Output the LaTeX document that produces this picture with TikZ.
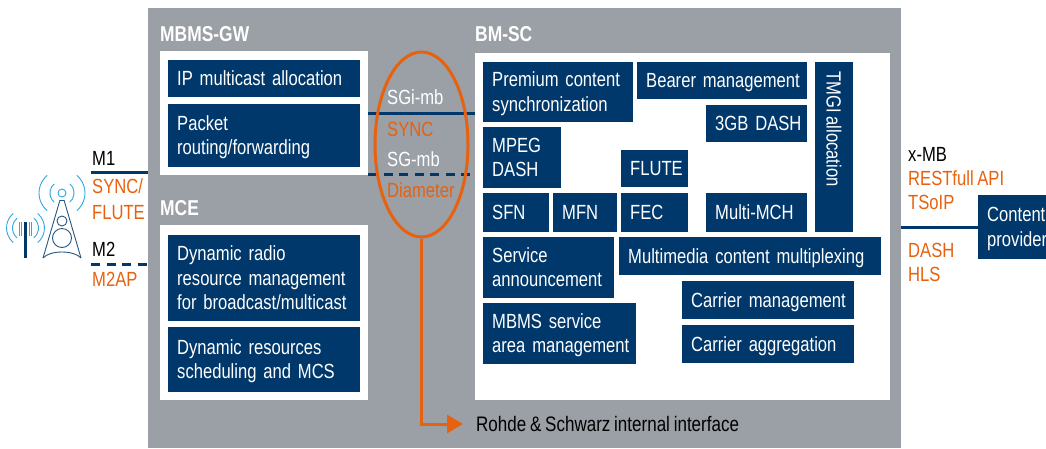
\documentclass[tikz,border=0pt]{standalone}
\usepackage{fontspec}
\setmainfont[FakeStretch=0.81,WordSpace=0.8]{Liberation Sans}
\usetikzlibrary{arrows.meta,shapes.geometric}
\definecolor{rsblue}{HTML}{00386B}
\definecolor{rsgray}{HTML}{9AA0A6}
\definecolor{rsorange}{HTML}{E8610E}
\definecolor{rswave}{HTML}{2FA8E0}
\newcommand{\boxstrut}{\rule[-5pt]{0pt}{24pt}}
\tikzset{
  bluebox/.style 2 args={fill=rsblue, text=white, anchor=north west, align=left,
    inner xsep=1pt, inner ysep=0pt, minimum width=#1pt, minimum height=#2pt,
    text width=#1pt-2pt, execute at begin node={\leftskip=8pt\rightskip=0pt plus 1fil\relax\boxstrut},
    execute at end node={\boxstrut}, font=\fontsize{20.5}{24.5}\selectfont},
  whitebox/.style 2 args={fill=white, anchor=north west, inner sep=0pt,
    minimum width=#1pt, minimum height=#2pt},
  lbl/.style={anchor=base west, inner sep=0pt, font=\fontsize{20.5}{24.5}\selectfont},
  head/.style={lbl, text=white, font=\fontsize{21.5}{24.5}\selectfont\bfseries},
  linkline/.style={rsblue, line width=3pt},
  linkdash/.style={linkline, dash pattern=on 9pt off 6.5pt},
  wave/.style={rswave, line width=0.9pt},
  tower/.style={rsblue!85!white, line width=0.9pt},
}
\begin{document}
\begin{tikzpicture}[x=1pt, y=-1pt]
      \useasboundingbox (0,0) rectangle (1046,448);
      %
      \node[whitebox={753}{440}, fill=rsgray] (core) at (148,8) {};   % gray frame
      \node[whitebox={208}{124}] (gw) at (160,51) {};
      \node[whitebox={208}{175}] (mce) at (160,225) {};
      \node[whitebox={415}{347}] (bmsc) at (475,53) {};
      \node[head] (gwhead) at (160,41) {MBMS-GW};
      \node[head] (mcehead) at (160,215) {MCE};
      \node[head] (bmhead) at (475,41) {BM-SC};
      %
      \node[bluebox={192}{37}] (ipalloc) at (168,60) {IP multicast allocation};   % left column
      \node[bluebox={192}{63}] (packet) at (168,104) {Packet\\routing/forwarding};
      \node[bluebox={192}{86}] (radio) at (168,235) {Dynamic radio\\resource management\\for broadcast/multicast};
      \node[bluebox={192}{65}] (sched) at (168,327) {Dynamic resources\\scheduling and MCS};
      %
      \node[bluebox={150}{60}] (premium) at (483,62) {Premium content\\synchronization};   % BM-SC
      \node[bluebox={170}{37}] (bearer) at (637,62) {Bearer management};
      \node[bluebox={38}{170}] (tmgi) at (815,62) {};
      \node[text=white, rotate=-90, inner sep=0pt, font=\fontsize{20.5}{24.5}\selectfont] (tmgitext) at (834,129) {TMGI allocation};
      \node[bluebox={101}{37}] (threegb) at (706,105) {3GB DASH};
      \node[bluebox={78}{61}] (mpeg) at (483,127) {MPEG\\DASH};
      \node[bluebox={67}{37}] (flute) at (621,150) {FLUTE};
      \node[bluebox={66}{39}] (sfn) at (483,193) {SFN};
      \node[bluebox={64}{39}] (mfn) at (553,193) {MFN};
      \node[bluebox={67}{39}] (fec) at (621,193) {FEC};
      \node[bluebox={101}{39}] (multi) at (706,193) {Multi-MCH};
      \node[bluebox={131}{61}] (service) at (483,237) {Service\\announcement};
      \node[bluebox={262}{38}] (mux) at (619,237) {Multimedia content multiplexing};
      \node[bluebox={172}{38}] (carrier) at (682,281) {Carrier management};
      \node[bluebox={153}{61}] (area) at (483,303) {MBMS service\\area management};
      \node[bluebox={172}{38}] (aggr) at (682,325) {Carrier aggregation};
      \node[bluebox={68}{64}] (content) at (978,195) {Content\\provider};
      %
      \coordinate (sgileft) at (368,113);   % links
      \coordinate (sgleft) at (368,174);
      \coordinate (m1left) at (91,172);
      \coordinate (m2left) at (91,264);
      \draw[linkline] (sgileft) -- (sgileft -| bmsc.west);
      \draw[linkdash] (sgleft) -- (sgleft -| bmsc.west);
      \draw[linkline] (m1left) -- (m1left -| core.west);
      \draw[linkdash] (m2left) -- (m2left -| core.west);
      \coordinate (xmbright) at (978,227);
      \draw[linkline] (xmbright -| core.east) -- (xmbright);
      %
      \node[draw=rsorange, line width=3pt, ellipse, inner sep=0pt, minimum width=93pt, minimum height=185pt] (oval) at (421.5,144.5) {};
      \coordinate (ifaceend) at (463,424);
      \draw[rsorange, line width=3pt, -{Triangle[length=16pt,width=18pt]}] (oval.south) |- (ifaceend);
      %
      \node[lbl, text=white] (sgilbl) at (387,104) {SGi-mb};   % labels at the oval
      \node[lbl, text=rsorange] (synclbl) at (387,136) {SYNC};
      \node[lbl, text=white] (sglbl) at (387,166) {SG-mb};
      \node[lbl, text=rsorange] (diamlbl) at (387,197) {Diameter};
      \node[lbl, font=\fontsize{21}{24.5}\selectfont] (ifacelbl) at (476,431) {Rohde \& Schwarz internal interface};
      %
      \node[lbl] (m1lbl) at (92,165) {M1};   % left side
      \node[lbl, text=rsorange] (m1syn) at (92,193) {SYNC/};
      \node[lbl, text=rsorange] (m1flu) at (92,219) {FLUTE};
      \node[lbl] (m2lbl) at (92,256) {M2};
      \node[lbl, text=rsorange] (m2ap) at (92,286) {M2AP};
      %
      \node[lbl] (xmblbl) at (908,161) {x-MB};   % right side
      \node[lbl, text=rsorange] (restlbl) at (908,185) {RESTfull API};
      \node[lbl, text=rsorange] (tsoip) at (908,209) {TSoIP};
      \node[lbl, text=rsorange] (dashlbl) at (908,257) {DASH};
      \node[lbl, text=rsorange] (hlslbl) at (908,281) {HLS};
      %
      \draw[tower] (60,200) -- (43,258);   % tower icon
      \draw[tower] (64,200) -- (81,258);
      \draw[tower] (60,200) -- (64,200);
      \draw[tower] (43,258) .. controls (50,250) and (74,250) .. (81,258);
      \draw[tower] (62,221) circle (5);
      \draw[tower] (62,238) circle (9.5);
      \draw[wave] (62,193) circle (4);
      \foreach \r in {12,23}{
        \draw[wave] (62,193) ++(-50:\r) arc[start angle=-50, end angle=50, radius=\r];
        \draw[wave] (62,193) ++(130:\r) arc[start angle=130, end angle=230, radius=\r];
      }
      %
      \draw[rsblue, line width=3pt] (25.5,222) -- (25.5,258);   % small antenna
      \foreach \x in {19.5,21.5,29.5,31.5}{
        \draw[rswave, line width=1pt] (\x,222) -- (\x,236);
      }
      \foreach \r in {13,19}{
        \draw[wave] (25.5,228) ++(-50:\r) arc[start angle=-50, end angle=50, radius=\r];
        \draw[wave] (25.5,228) ++(130:\r) arc[start angle=130, end angle=230, radius=\r];
      }
      %
    \end{tikzpicture}
\end{document}
